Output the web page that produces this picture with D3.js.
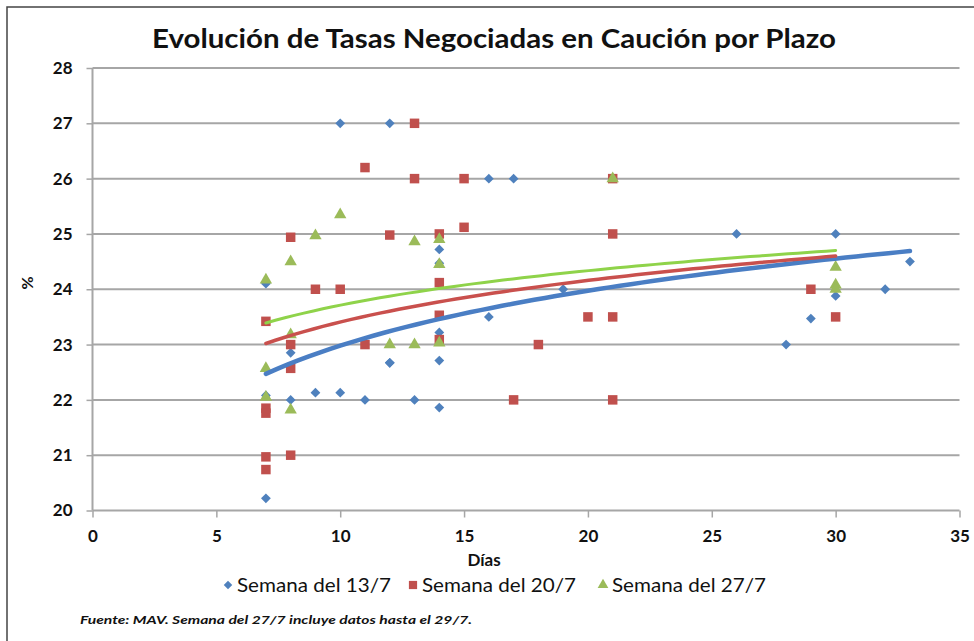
<!DOCTYPE html>
<html>
<head>
<meta charset="utf-8">
<script src="https://cdn.jsdelivr.net/npm/d3@7"></script>
<style>
  body { margin: 0; background: #fff; }
  text { font-family: Lato, "Open Sans", sans-serif; fill: #111; }
  .tick text { font-weight: bold; font-size: 17px; }
  .grid line { stroke: #a6a6a6; stroke-width: 2; }
</style>
</head>
<body>
<svg id="chart" width="974" height="641"></svg>
<script>
'use strict';

// Semana del 13/7 (dias, tasa %)
var dias137 = [7, 7, 7, 8, 8, 9, 10, 10, 11, 12, 12, 12, 13, 14, 14, 14, 14, 14, 16, 16, 17, 19, 26, 28, 29, 30, 30, 32, 33];
var tasa137 = [24.1, 22.08, 20.22, 22.85, 22.0, 22.13, 27.0, 22.13, 22.0, 27.0, 22.67, 22.67, 22.0, 24.72, 24.47, 23.22, 22.71, 21.86, 26.0, 23.5, 26.0, 24.0, 25.0, 23.0, 23.47, 25.0, 23.88, 24.0, 24.5];

// Semana del 20/7
var dias207 = [7, 7, 7, 7, 7, 8, 8, 8, 8, 9, 10, 11, 11, 12, 13, 13, 14, 14, 14, 14, 15, 15, 17, 18, 20, 21, 21, 21, 21, 29, 30];
var tasa207 = [23.42, 21.85, 21.76, 20.97, 20.74, 24.94, 23.0, 22.57, 21.0, 24.0, 24.0, 26.2, 23.0, 24.98, 27.0, 26.0, 25.0, 24.12, 23.53, 23.09, 26.0, 25.12, 22.0, 23.0, 23.5, 26.0, 25.0, 23.5, 22.0, 24.0, 23.5];

// Semana del 27/7
var dias277 = [7, 7, 7, 8, 8, 8, 9, 10, 12, 13, 13, 14, 14, 14, 21, 30, 30, 30];
var tasa277 = [24.17, 22.57, 22.05, 24.5, 23.18, 21.82, 24.97, 25.35, 23.0, 24.86, 23.0, 24.9, 24.45, 23.03, 26.0, 24.4, 24.08, 24.0];

// logarithmic trend lines: tasa = a + b * ln(dias)
var trendA = [19.683, 20.907, 21.639];
var trendB = [1.432, 1.0857, 0.900];
var trendRange = [[7, 33], [7, 30], [7, 30]];

var seriesNames = ['Semana del 13/7', 'Semana del 20/7', 'Semana del 27/7'];
var xTicks = [0, 5, 10, 15, 20, 25, 30, 35];
var yTicks = [20, 21, 22, 23, 24, 25, 26, 27, 28];

var series = [
    { name: seriesNames[0], x: dias137, y: tasa137, color: '#4f81bd', trend: '#4a7ec4', trendW: 4.5, symbol: d3.symbolSquare, size: 48, rot: 45 },
    { name: seriesNames[1], x: dias207, y: tasa207, color: '#c0504d', trend: '#c9504d', trendW: 3.5, symbol: d3.symbolSquare, size: 90, rot: 0 },
    { name: seriesNames[2], x: dias277, y: tasa277, color: '#9bbb59', trend: '#8fd34a', trendW: 3, symbol: d3.symbolTriangle, size: 66, rot: 0 }
];

var svg = d3.select('#chart');

// outer frame (cropped on the right/bottom)
svg.append('rect')
    .attr('x', 7).attr('y', 7)
    .attr('width', 1000).attr('height', 700)
    .attr('fill', 'none')
    .attr('stroke', '#444').attr('stroke-width', 1.5);

var plotLeft = 92.5, plotRight = 959.5, plotTop = 68, plotBottom = 510.5;

var x = d3.scaleLinear().domain([0, 35]).range([plotLeft, plotRight]);
var y = d3.scaleLinear().domain([20, 28]).range([plotBottom, plotTop]);

// horizontal gridlines
svg.append('g').attr('class', 'grid')
    .selectAll('line')
    .data(yTicks.filter(function(t) { return t > 20; }))
    .enter().append('line')
        .attr('x1', plotLeft).attr('x2', plotRight)
        .attr('y1', function(d) { return y(d); })
        .attr('y2', function(d) { return y(d); });

var yAxis = svg.append('g')
    .attr('transform', 'translate(' + plotLeft + ',0)')
    .call(d3.axisLeft(y).tickValues(yTicks).tickSize(6).tickPadding(14).tickFormat(d3.format('d')));

var xAxis = svg.append('g')
    .attr('transform', 'translate(0,' + plotBottom + ')')
    .call(d3.axisBottom(x).tickValues(xTicks).tickSize(7).tickPadding(12).tickFormat(d3.format('d')));

[yAxis, xAxis].forEach(function(ax) {
    ax.select('.domain').attr('stroke', '#a6a6a6').attr('stroke-width', 2);
    ax.selectAll('.tick line').attr('stroke', '#a6a6a6').attr('stroke-width', 1.5);
    ax.selectAll('.tick text').attr('fill', '#111');
});
xAxis.select('.domain').attr('d', 'M' + plotLeft + ',0H' + plotRight);
yAxis.select('.domain').attr('d', 'M0,' + plotTop + 'V' + plotBottom);

// markers
series.forEach(function(s) {
    var pts = s.x.map(function(d, i) { return [d, s.y[i]]; });
    svg.append('g')
        .selectAll('path')
        .data(pts)
        .enter().append('path')
            .attr('d', d3.symbol().type(s.symbol).size(s.size))
            .attr('transform', function(d) {
                return 'translate(' + x(d[0]) + ',' + y(d[1]) + ') rotate(' + s.rot + ')';
            })
            .attr('fill', s.color);
});

// trend lines
var line = d3.line()
    .x(function(d) { return x(d[0]); })
    .y(function(d) { return y(d[1]); });

series.forEach(function(s, k) {
    var x0 = trendRange[k][0], x1 = trendRange[k][1];
    var pts = d3.range(0, 61).map(function(i) {
        var xv = x0 + (x1 - x0) * i / 60;
        return [xv, trendA[k] + trendB[k] * Math.log(xv)];
    });
    svg.append('path')
        .datum(pts)
        .attr('d', line)
        .attr('fill', 'none')
        .attr('stroke', s.trend)
        .attr('stroke-width', s.trendW)
        .attr('stroke-linecap', 'round');
});

// title & axis titles
svg.append('text')
    .attr('x', 494).attr('y', 48)
    .attr('text-anchor', 'middle')
    .attr('textLength', 684).attr('lengthAdjust', 'spacingAndGlyphs')
    .style('font-size', '27px').style('font-weight', 'bold')
    .text('Evolución de Tasas Negociadas en Caución por Plazo');

svg.append('text')
    .attr('transform', 'translate(33,283) rotate(-90)')
    .attr('text-anchor', 'middle')
    .style('font-size', '16px').style('font-weight', 'bold')
    .text('%');

svg.append('text')
    .attr('x', 484).attr('y', 566)
    .attr('text-anchor', 'middle')
    .style('font-size', '17px').style('font-weight', 'bold')
    .text('Días');

// legend
var legendX = [228, 413, 603];
var legend = svg.append('g');
series.forEach(function(s, i) {
    legend.append('path')
        .attr('d', d3.symbol().type(s.symbol).size(s.size * 0.75))
        .attr('transform', 'translate(' + legendX[i] + ',585) rotate(' + s.rot + ')')
        .attr('fill', s.color);
    legend.append('text')
        .attr('x', legendX[i] + 9).attr('y', 592)
        .attr('textLength', 154).attr('lengthAdjust', 'spacingAndGlyphs')
        .style('font-size', '20px')
        .text(s.name);
});

svg.append('text')
    .attr('x', 80).attr('y', 624)
    .attr('textLength', 392).attr('lengthAdjust', 'spacingAndGlyphs')
    .style('font-size', '12px').style('font-style', 'italic').style('font-weight', 'bold')
    .text('Fuente: MAV. Semana del 27/7 incluye datos hasta el 29/7.');
</script>
</body>
</html>
